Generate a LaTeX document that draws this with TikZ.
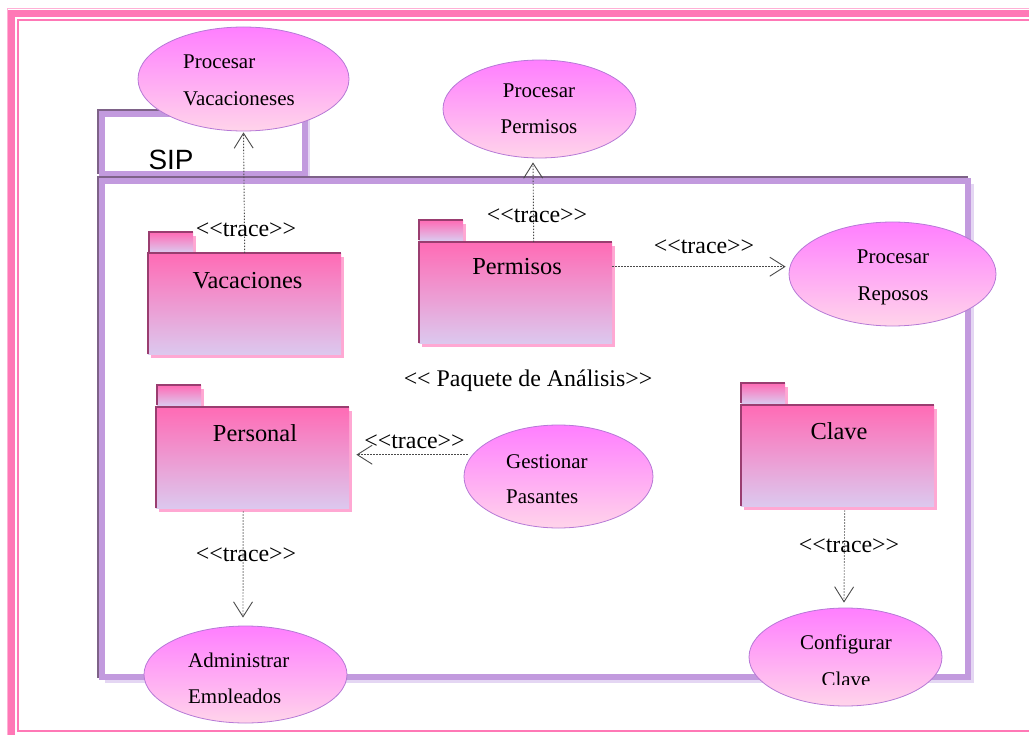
\documentclass[tikz,border=0pt]{standalone}
\usepackage{fontspec}
\setmainfont{Liberation Serif}
\newfontfamily\sipfont{Liberation Sans}
\usetikzlibrary{shapes.geometric,arrows.meta,shadows}

\definecolor{framepink}{HTML}{FF78B6}
\definecolor{framelight}{HTML}{FFB0D6}
\definecolor{sipmain}{HTML}{C29ADE}
\definecolor{sipdark}{HTML}{7E6288}
\definecolor{siplight}{HTML}{E4D6F3}
\definecolor{pkgtop}{HTML}{FF6BB5}
\definecolor{pkgmid}{HTML}{F08EC6}
\definecolor{pkgbot}{HTML}{DCC8EE}
\definecolor{pkgedge}{HTML}{9A3D70}
\definecolor{pkgshadow}{HTML}{FFA8D3}
\definecolor{uctop}{HTML}{FF7EFF}
\definecolor{ucbot}{HTML}{FFD4EA}
\definecolor{ucedge}{HTML}{B679D6}
\definecolor{tracegray}{HTML}{4A4A4A}

% stereotype brackets without the << -> guillemet ligature
\newcommand\stereo[1]{<{}<#1>{}>}

\begin{document}
\begin{tikzpicture}[x=1bp,y=-1bp,
  pkgbody/.style={rectangle, anchor=north west, inner sep=0,
    minimum width=193bp, minimum height=101bp,
    top color=pkgtop, middle color=pkgmid, bottom color=pkgbot,
    drop shadow={shadow xshift=3bp, shadow yshift=-4bp, fill=pkgshadow, opacity=1}},
  pkgtab/.style={pkgbody, minimum width=44bp, minimum height=20bp},
  pkgrim/.style={draw=pkgedge, line width=2.5bp},
  pkglabel/.style={anchor=base, inner sep=0, font=\fontsize{24.5}{28}\selectfont},
  usecase/.style={ellipse, inner sep=0, draw=ucedge, line width=0.8bp,
    top color=uctop, bottom color=ucbot},
  uctext/.style={anchor=base, inner sep=0, font=\fontsize{21}{25}\selectfont},
  uctextl/.style={anchor=base west, inner sep=0, font=\fontsize{21}{25}\selectfont},
  tracelabel/.style={anchor=base, inner sep=0, font=\fontsize{24}{28}\selectfont},
  trace/.style={draw=tracegray, line width=0.9bp, dash pattern=on 1.3bp off 1.7bp,
    -{Straight Barb[length=15bp,width=19bp,line width=0.9bp]}},
  siprim/.style={draw=sipmain, line width=6bp},
  sipshade/.style={draw=sipdark, line width=2bp},
  siphigh/.style={draw=siplight, line width=3bp}]

\useasboundingbox (0,0) rectangle (1029,735);

% page frame
\begin{scope}
  \clip (0,0) rectangle (1029,735);
  \draw[framelight, line width=1.2bp] (7.5,8.8) rectangle (1060,760);
  \draw[framepink, line width=7bp] (11.5,13.5) rectangle (1050,738);
  \draw[framepink, line width=2bp] (18.3,20.3) rectangle (1040,730.5);
\end{scope}

% SIP package frame: tab and body
\draw[siphigh] (308,117) -- (308,177);
\draw[sipshade] (98,174) -- (98,110) -- (305,110);
\draw[siprim] (102,114) rectangle (305,174);
\draw[siphigh] (972,184) -- (972,681) -- (105,681);
\draw[sipshade] (98,678) -- (98,177) -- (968,177);
\draw[siprim] (102,181) rectangle (968,677);
\node[anchor=base, inner sep=0, font=\sipfont\fontsize{28}{32}\selectfont] (sip) at (171,170) {SIP};

% packages
\node[pkgtab] (vactab) at (149,232) {};
\node[pkgbody] (vac) at (148,253) {};
\draw[pkgrim] (vactab.south west) -- (vactab.north west) -- (vactab.north east);
\draw[pkgrim] (vac.south west) -- (vac.north west) -- (vac.north east);
\node[pkglabel] (vacl) at (247.5,288) {Vacaciones};

\node[pkgtab] (pertab) at (419,220) {};
\node[pkgbody] (perm) at (419,242) {};
\draw[pkgrim] (pertab.south west) -- (pertab.north west) -- (pertab.north east);
\draw[pkgrim] (perm.south west) -- (perm.north west) -- (perm.north east);
\node[pkglabel] (perml) at (517,274) {Permisos};

\node[pkgtab] (pstab) at (157,385) {};
\node[pkgbody] (pers) at (156,407) {};
\draw[pkgrim] (pstab.south west) -- (pstab.north west) -- (pstab.north east);
\draw[pkgrim] (pers.south west) -- (pers.north west) -- (pers.north east);
\node[pkglabel] (persl) at (255,441) {Personal};

\node[pkgtab] (cltab) at (741,383) {};
\node[pkgbody] (clave) at (741,405) {};
\draw[pkgrim] (cltab.south west) -- (cltab.north west) -- (cltab.north east);
\draw[pkgrim] (clave.south west) -- (clave.north west) -- (clave.north east);
\node[pkglabel] (clavel) at (839,439) {Clave};

\node[anchor=base, inner sep=0, font=\fontsize{24}{28}\selectfont] (paq) at (528,386) {\stereo{ Paquete de Análisis}};

% use cases
\node[usecase, minimum width=211bp, minimum height=104bp] (pv) at (243.5,79) {};
\node[uctextl] (pv1) at (183,69) {Procesar};
\node[uctextl] (pv2) at (183,106) {Vacacioneses};

\node[usecase, minimum width=193bp, minimum height=98bp] (pp) at (539.5,109) {};
\node[uctext] (pp1) at (539,98) {Procesar};
\node[uctext] (pp2) at (539,134) {Permisos};

\node[usecase, minimum width=207bp, minimum height=104bp] (pr) at (892.5,274) {};
\node[uctext] (pr1) at (893,263) {Procesar};
\node[uctext] (pr2) at (893,300) {Reposos};

\node[usecase, minimum width=189bp, minimum height=103bp] (gp) at (558.5,476.5) {};
\node[uctextl] (gp1) at (506,468) {Gestionar};
\node[uctextl] (gp2) at (506,503) {Pasantes};

\node[usecase, minimum width=203bp, minimum height=97bp] (ae) at (245.5,674.5) {};
\node[uctextl] (ae1) at (188,667) {Administrar};
\begin{scope}
  \clip (150,680) rectangle (340,702);
  \node[uctextl] (ae2) at (188,703) {Empleados};
\end{scope}

\node[usecase, minimum width=193bp, minimum height=98bp] (cc) at (845.5,657) {};
\node[uctext] (cc1) at (846,649.5) {Configurar};
\begin{scope}
  \clip (760,660) rectangle (930,684);
  \node[uctext] (cc2) at (846,686) {Clave};
\end{scope}

% trace dependencies
\draw[trace] (vac.north) -- ([yshift=-1bp]pv.south);
\node[tracelabel] (t1) at (246,236) {\stereo{trace}};

\draw[trace] ([xshift=18bp]perm.north) -- ([xshift=-6.5bp,yshift=-4bp]pp.south);
\node[tracelabel] (t2) at (537,222.5) {\stereo{trace}};

\draw[trace] ([yshift=26bp]perm.east) -- ([yshift=26bp,xshift=-3bp]perm.east -| pr.west);
\node[tracelabel] (t3) at (704,253) {\stereo{trace}};

\draw[trace] ([yshift=3bp,xshift=4bp]gp.west |- pers.east) -- ([yshift=3bp,xshift=7bp]pers.east);
\node[tracelabel] (t4) at (414.5,448) {\stereo{trace}};

\draw[trace] ([xshift=-9.5bp,yshift=-3bp]pers.south) -- ([xshift=-2.5bp,yshift=8bp]ae.north);
\node[tracelabel] (t5) at (246,561) {\stereo{trace}};

\draw[trace] ([xshift=7bp,yshift=-4bp]clave.south) -- ([xshift=-1.5bp,yshift=5bp]cc.north);
\node[tracelabel] (t6) at (849,552) {\stereo{trace}};

\end{tikzpicture}
\end{document}
